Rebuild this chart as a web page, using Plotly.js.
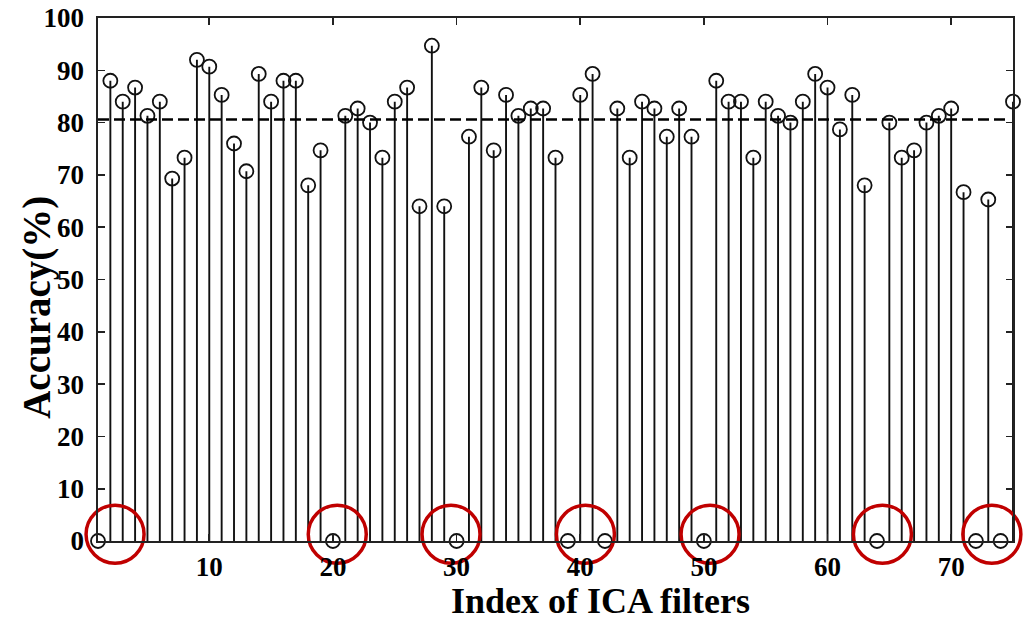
<!DOCTYPE html>
<html>
<head>
<meta charset="utf-8">
<script src="https://cdn.plot.ly/plotly-3.0.1.min.js"></script>
<style>html,body{margin:0;padding:0;background:#fff;}#chart{width:1028px;height:620px;}</style>
</head>
<body>
<div id="chart"></div>
<script>
// Index of ICA filters
const filterIndex = Array.from({length: 75}, (_, i) => i + 1);
// Classification accuracy (%) for each filter
const accuracy = [
  0, 88, 84, 86.7, 81.3, 84, 69.3, 73.3, 92, 90.7,
  85.3, 76, 70.7, 89.3, 84, 88, 88, 68, 74.7, 0,
  81.3, 82.7, 80, 73.3, 84, 86.7, 64, 94.7, 64, 0,
  77.3, 86.7, 74.7, 85.3, 81.3, 82.7, 82.7, 73.3, 0, 85.3,
  89.3, 0, 82.7, 73.3, 84, 82.7, 77.3, 82.7, 77.3, 0,
  88, 84, 84, 73.3, 84, 81.3, 80, 84, 89.3, 86.7,
  78.7, 85.3, 68, 0, 80, 73.3, 74.7, 80, 81.3, 82.7,
  66.7, 0, 65.3, 0, 84
];
// Reference accuracy (dashed line)
const referenceAccuracy = 80.6;
// Highlighted zero-accuracy groups (centre index, centre value)
const highlightX = [2.38, 20.35, 29.55, 40.42, 50.5, 64.44, 73.29];
const highlightY = [1.3, 1.3, 1.3, 1.3, 1.3, 1.3, 1.3];
// Tick labels
const xTicks = [10, 20, 30, 40, 50, 60, 70];
const yTicks = [0, 10, 20, 30, 40, 50, 60, 70, 80, 90, 100];

const stemX = [], stemY = [];
filterIndex.forEach((x, i) => { stemX.push(x, x, null); stemY.push(0, accuracy[i], null); });

const FONT = 'Liberation Serif, Times New Roman, serif';

const traces = [
  { x: stemX, y: stemY, mode: 'lines', type: 'scatter', hoverinfo: 'skip',
    line: {color: '#111', width: 1.9}, showlegend: false, cliponaxis: false },
  { x: filterIndex, y: accuracy, mode: 'markers', type: 'scatter',
    marker: {symbol: 'circle-open', size: 14, color: '#111', line: {width: 1.8, color: '#111'}},
    showlegend: false, cliponaxis: false },
  { x: highlightX, y: highlightY, mode: 'markers', type: 'scatter', hoverinfo: 'skip',
    marker: {symbol: 'circle-open', size: 58, color: '#c00000', line: {width: 3.5, color: '#c00000'}},
    showlegend: false, cliponaxis: false }
];

const axisCommon = {
  showline: true, linecolor: '#222', linewidth: 1.6, mirror: 'ticks',
  ticks: 'inside', ticklen: 7, tickwidth: 1.6, tickcolor: '#222',
  showgrid: false, zeroline: false,
  tickfont: {family: FONT, size: 27, color: '#000', weight: 'bold'}
};

const layout = {
  width: 1028, height: 620,
  margin: {l: 98, r: 15, t: 18, b: 79, pad: 0},
  paper_bgcolor: '#fff', plot_bgcolor: '#fff',
  font: {family: FONT, color: '#000'},
  xaxis: Object.assign({}, axisCommon, {
    range: [1, 75], tickmode: 'array', tickvals: xTicks, ticktext: xTicks.map(String),
    ticklabelstandoff: 1
  }),
  yaxis: Object.assign({}, axisCommon, {
    range: [0, 100], tickmode: 'array', tickvals: yTicks, ticktext: yTicks.map(String),
    ticklabelstandoff: 7
  }),
  shapes: [
    { type: 'line', xref: 'x', yref: 'y', x0: 1, x1: 74.5, y0: referenceAccuracy, y1: referenceAccuracy,
      line: {color: '#000', width: 2.5, dash: '11px,5px'} }
  ],
  annotations: [
    { text: 'Index of ICA filters', xref: 'paper', yref: 'paper', x: 0.5497, y: -0.1145,
      xanchor: 'center', yanchor: 'middle', showarrow: false,
      font: {family: FONT, size: 36, color: '#000', weight: 'bold'} },
    { text: 'Accuracy(%)', xref: 'paper', yref: 'paper', x: -0.066, y: 0.447,
      xanchor: 'center', yanchor: 'middle', textangle: -90, showarrow: false,
      font: {family: FONT, size: 39, color: '#000', weight: 'bold'} }
  ]
};

Plotly.newPlot('chart', traces, layout, {displayModeBar: false, staticPlot: true});
</script>
</body>
</html>
